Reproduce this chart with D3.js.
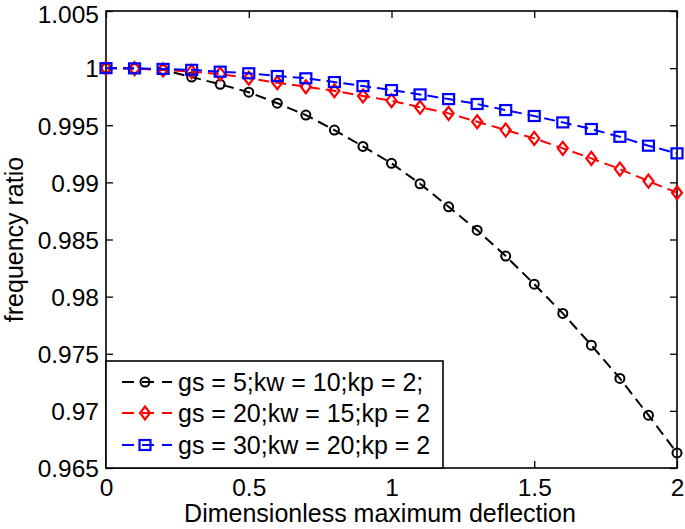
<!DOCTYPE html>
<html>
<head>
<meta charset="utf-8">
<script src="https://cdn.jsdelivr.net/npm/d3@7"></script>
<style>
html,body{margin:0;padding:0;background:#fff;}
svg{display:block;}
text{font-family:"Liberation Sans",Arial,sans-serif;fill:#000;}
</style>
</head>
<body>
<svg id="chart" width="685" height="529"></svg>
<script>
const xValues = [0,0.1,0.2,0.3,0.4,0.5,0.6,0.7,0.8,0.9,1.0,1.1,1.2,1.3,1.4,1.5,1.6,1.7,1.8,1.9,2.0];
const seriesBlack = [1.0,0.99997,0.99985,0.99922,0.99858,0.99789,0.99693,0.99589,0.99458,0.99315,0.99167,0.98988,0.98786,0.98582,0.98355,0.98109,0.97853,0.97575,0.97284,0.96962,0.96632];
const seriesRed = [1.0,0.99996,0.99985,0.99969,0.99948,0.99911,0.99872,0.99837,0.99802,0.99756,0.99715,0.99657,0.99604,0.99531,0.99458,0.99385,0.99298,0.99210,0.99116,0.99011,0.98909];
const seriesBlue = [1.0,0.99998,0.99993,0.99985,0.99969,0.99955,0.99931,0.99911,0.99878,0.99843,0.99808,0.99770,0.99729,0.99686,0.99633,0.99581,0.99525,0.99467,0.99399,0.99321,0.99254];
const seriesNames = ["gs = 5;kw = 10;kp = 2;","gs = 20;kw = 15;kp = 2","gs = 30;kw = 20;kp = 2"];
const xTicks = [0,0.5,1,1.5,2];
const xTickLabels = ["0","0.5","1","1.5","2"];
const yTicks = [0.965,0.97,0.975,0.98,0.985,0.99,0.995,1,1.005];
const yTickLabels = ["0.965","0.97","0.975","0.98","0.985","0.99","0.995","1","1.005"];
const xLabel = "Dimensionless maximum deflection";
const yLabel = "frequency ratio";

const svg = d3.select("#chart");
const L = 106, R = 677, T = 11, B = 468;
const x = d3.scaleLinear().domain([0,2]).range([L,R]);
const y = d3.scaleLinear().domain([0.965,1.005]).range([B,T]);
const fs = 25, tfs = 24.5;

// axes with inward ticks on all sides
const tl = 7;
const gB = svg.append("g").attr("transform",`translate(0,${B})`)
  .call(d3.axisBottom(x).tickValues(xTicks).tickFormat((d,i)=>xTickLabels[i]).tickSizeInner(-tl).tickSizeOuter(0).tickPadding(11));
const gT = svg.append("g").attr("transform",`translate(0,${T})`)
  .call(d3.axisTop(x).tickValues(xTicks).tickFormat("").tickSizeInner(-tl).tickSizeOuter(0));
const gL = svg.append("g").attr("transform",`translate(${L},0)`)
  .call(d3.axisLeft(y).tickValues(yTicks).tickFormat((d,i)=>yTickLabels[i]).tickSizeInner(-tl).tickSizeOuter(0).tickPadding(7));
const gR = svg.append("g").attr("transform",`translate(${R},0)`)
  .call(d3.axisRight(y).tickValues(yTicks).tickFormat("").tickSizeInner(-tl).tickSizeOuter(0));
[gB,gT,gL,gR].forEach(g=>{
  g.select(".domain").remove();
  g.selectAll(".tick line").attr("stroke","#000").attr("stroke-width",1.3);
  g.selectAll("text").attr("font-size",tfs).attr("font-family","Liberation Sans, Arial, sans-serif").attr("fill","#000");
});
gL.selectAll(".tick text").attr("dy",d=>d>1.004 ? "0.46em" : "0.36em");

// box
svg.append("rect").attr("x",L).attr("y",T).attr("width",R-L).attr("height",B-T)
  .attr("fill","none").attr("stroke","#000").attr("stroke-width",1.6);

const series = [
  {vals:seriesBlack,color:"#000",marker:"circle"},
  {vals:seriesRed,color:"#ff0000",marker:"diamond"},
  {vals:seriesBlue,color:"#0000ff",marker:"square"}
];
const line = d3.line().x((d,i)=>x(xValues[i])).y(d=>y(d));
function drawMarker(g,type,cx,cy,color){
  if(type==="circle"){
    g.append("circle").attr("cx",cx).attr("cy",cy).attr("r",4.5).attr("fill","none").attr("stroke",color).attr("stroke-width",2);
  } else if(type==="diamond"){
    g.append("path").attr("d",`M${cx},${cy-6.5}L${cx+5},${cy}L${cx},${cy+6.5}L${cx-5},${cy}Z`).attr("fill","none").attr("stroke",color).attr("stroke-width",2.2);
  } else {
    g.append("rect").attr("x",cx-5.5).attr("y",cy-5).attr("width",11).attr("height",10).attr("fill","none").attr("stroke",color).attr("stroke-width",2.2);
  }
}
series.forEach(s=>{
  svg.append("path").datum(s.vals).attr("d",line).attr("fill","none").attr("stroke",s.color)
    .attr("stroke-width",2).attr("stroke-dasharray","11,6");
  const g = svg.append("g");
  s.vals.forEach((v,i)=>drawMarker(g,s.marker,x(xValues[i]),y(v),s.color));
});

// legend
const lg = svg.append("g");
lg.append("rect").attr("x",L).attr("y",361).attr("width",443-L).attr("height",B-361)
  .attr("fill","#fff").attr("stroke","#000").attr("stroke-width",1.6);
const ly = [382,413,445];
series.forEach((s,i)=>{
  lg.append("line").attr("x1",122).attr("x2",172).attr("y1",ly[i]).attr("y2",ly[i])
    .attr("stroke",s.color).attr("stroke-width",2).attr("stroke-dasharray","12,8");
  drawMarker(lg,s.marker,145,ly[i],s.color);
  lg.append("text").attr("x",178).attr("y",ly[i]).attr("dy","0.36em").attr("font-size",fs).text(seriesNames[i]);
});

// axis labels
svg.append("text").attr("x",380).attr("y",522).attr("text-anchor","middle").attr("font-size",fs).text(xLabel);
svg.append("text").attr("transform",`translate(23,${(T+B)/2}) rotate(-90)`).attr("text-anchor","middle").attr("font-size",fs).text(yLabel);
</script>
</body>
</html>
